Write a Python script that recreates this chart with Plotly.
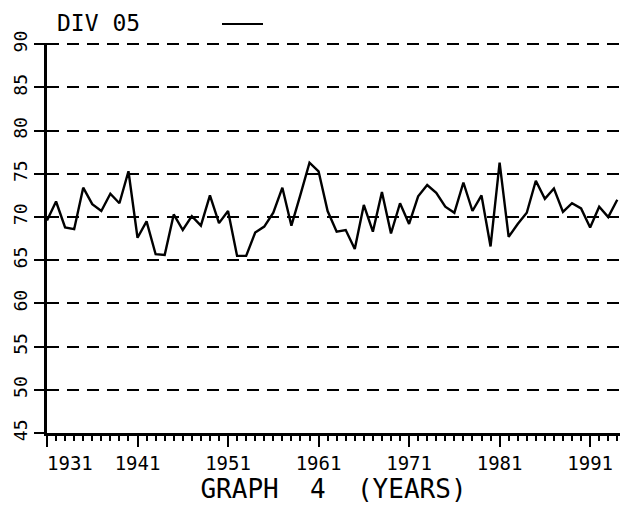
import plotly.graph_objects as go

years = list(range(1931, 1995))
values = [69.6, 71.8, 68.8, 68.6, 73.4, 71.5, 70.7, 72.7, 71.6, 75.3,
          67.6, 69.5, 65.7, 65.6, 70.3, 68.5, 70.1, 69.0, 72.5, 69.3,
          70.7, 65.5, 65.5, 68.2, 68.9, 70.5, 73.4, 69.0, 72.6, 76.3,
          75.3, 70.7, 68.3, 68.5, 66.3, 71.4, 68.3, 72.9, 68.1, 71.6,
          69.2, 72.4, 73.7, 72.8, 71.2, 70.5, 74.0, 70.7, 72.5, 66.6,
          76.3, 67.7, 69.2, 70.5, 74.2, 72.1, 73.3, 70.6, 71.6, 71.0,
          68.8, 71.2, 70.0, 72.0]

x_tick_vals = [1931, 1941, 1951, 1961, 1971, 1981, 1991]
x_tick_text = ["\u00a0\u00a0\u00a0\u00a01931", "1941", "1951", "1961", "1971", "1981", "1991"]
y_tick_vals = [45, 50, 55, 60, 65, 70, 75, 80, 85, 90]

title_text = "DIV 05"
x_title = "GRAPH\u00a0\u00a04\u00a0\u00a0(YEARS)"

FONT = "DejaVu Sans Mono"
L, R, T, B = 47, 5, 43, 75
W, H = 625, 508
Y_RANGE = [45, 90.15]

fig = go.Figure()
fig.add_trace(go.Scatter(x=years, y=values, mode="lines",
                         line=dict(color="black", width=2.4),
                         showlegend=False, hoverinfo="skip"))
# invisible companion trace so the inner tick marks axis gets drawn
fig.add_trace(go.Scatter(x=years, y=values, mode="lines", yaxis="y2",
                         line=dict(color="rgba(0,0,0,0)", width=0),
                         showlegend=False, hoverinfo="skip"))

fig.update_layout(
    width=W, height=H,
    margin=dict(l=L, r=R, t=T, b=B, autoexpand=False),
    paper_bgcolor="white", plot_bgcolor="white",
    font=dict(family=FONT, color="black"),
    showlegend=False,
    xaxis=dict(
        range=[1931, 1994.3], automargin=False,
        tickmode="array", tickvals=x_tick_vals, ticktext=x_tick_text,
        ticks="outside", ticklen=11, tickwidth=2, tickcolor="black",
        minor=dict(dtick=1, tick0=1931, ticks="outside", ticklen=5,
                   tickwidth=1.5, tickcolor="black", showgrid=False),
        showgrid=False, zeroline=False,
        showline=True, linecolor="black", linewidth=2.5,
        tickfont=dict(family=FONT, size=19, color="black"),
        title=dict(text=x_title, font=dict(family=FONT, size=26, color="black"),
                   standoff=3),
    ),
    yaxis=dict(
        range=Y_RANGE, automargin=False,
        tickmode="array", tickvals=y_tick_vals,
        ticks="outside", ticklen=10, tickwidth=2, tickcolor="black",
        tickangle=-90,
        showgrid=True, gridcolor="black", gridwidth=2, griddash="12px,8px",
        zeroline=False,
        showline=True, linecolor="black", linewidth=2.5,
        tickfont=dict(family=FONT, size=18, color="black"),
    ),
    yaxis2=dict(
        range=Y_RANGE, automargin=False, overlaying="y", side="left",
        tickmode="array", tickvals=y_tick_vals,
        ticks="inside", ticklen=6, tickwidth=2, tickcolor="black",
        showticklabels=False, showgrid=False, zeroline=False, showline=False,
    ),
)

pw = W - L - R
ph = H - T - B
def px_x(p):
    return (p - L) / pw
def px_y(p):
    return (H - B - p) / ph

fig.add_annotation(text=title_text, x=px_x(55), y=px_y(23), xref="paper", yref="paper",
                   showarrow=False, xanchor="left", yanchor="middle",
                   font=dict(family=FONT, size=23, color="black"))
fig.add_shape(type="line", xref="paper", yref="paper",
              x0=px_x(222), x1=px_x(263), y0=px_y(24), y1=px_y(24),
              line=dict(color="black", width=2))

fig.write_html("out.html", config={"displayModeBar": False},
               post_script="document.body.style.margin='0';")
